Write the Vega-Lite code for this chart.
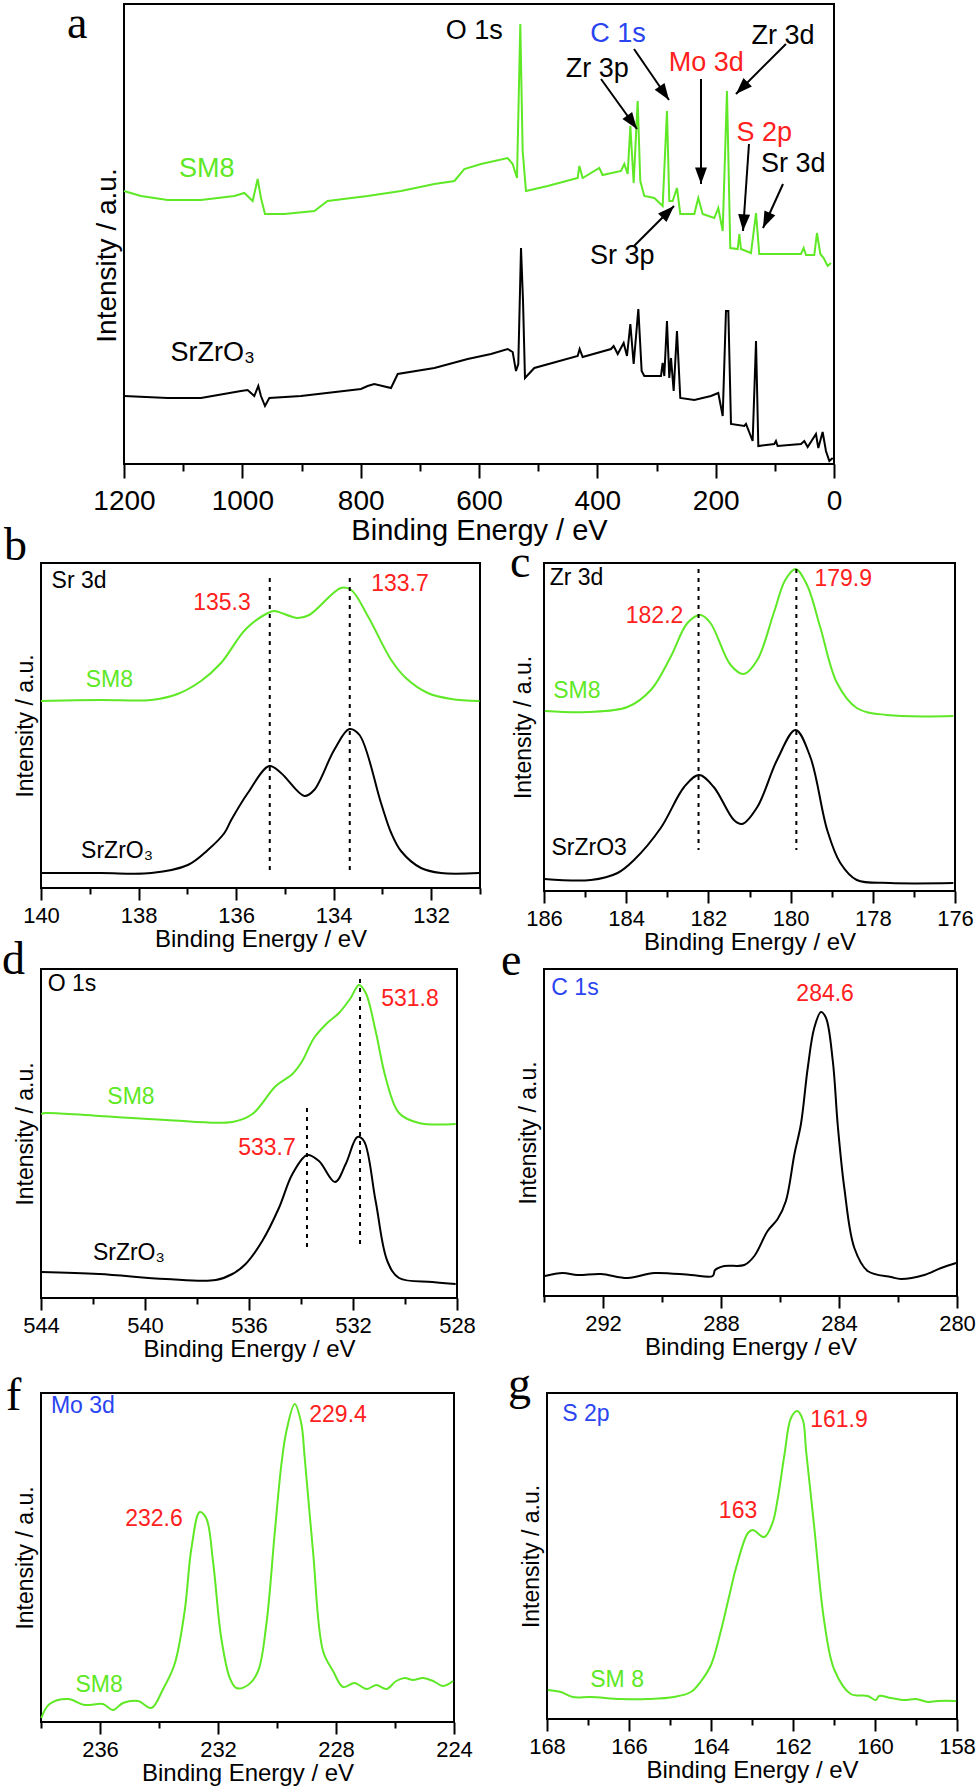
{
  "$schema": "https://vega.github.io/schema/vega-lite/v6.json",
  "background": "white",
  "padding": {"left": 1, "top": 0, "right": 0, "bottom": 0},
  "datasets": {
    "curves": [
      {"p":"a","c":"SM8","e":1200,"i":273},{"p":"a","c":"SM8","e":1171.3,"i":268},{"p":"a","c":"SM8","e":1126.2,"i":264},{"p":"a","c":"SM8","e":1069.9,"i":264},{"p":"a","c":"SM8","e":1013.5,"i":268},{"p":"a","c":"SM8","e":996.6,"i":271},{"p":"a","c":"SM8","e":982.5,"i":263},{"p":"a","c":"SM8","e":974.1,"i":285},{"p":"a","c":"SM8","e":968.5,"i":266},{"p":"a","c":"SM8","e":961.7,"i":250},{"p":"a","c":"SM8","e":929.0,"i":250},{"p":"a","c":"SM8","e":878.3,"i":253},{"p":"a","c":"SM8","e":855.8,"i":263},{"p":"a","c":"SM8","e":788.3,"i":268},{"p":"a","c":"SM8","e":731.8,"i":273},{"p":"a","c":"SM8","e":675.4,"i":280},{"p":"a","c":"SM8","e":641.6,"i":283},{"p":"a","c":"SM8","e":624.9,"i":295},{"p":"a","c":"SM8","e":596.6,"i":300},{"p":"a","c":"SM8","e":551.6,"i":306},{"p":"a","c":"SM8","e":543.1,"i":300},{"p":"a","c":"SM8","e":535.8,"i":286},{"p":"a","c":"SM8","e":530.2,"i":440},{"p":"a","c":"SM8","e":526.2,"i":313},{"p":"a","c":"SM8","e":520.6,"i":273},{"p":"a","c":"SM8","e":483.9,"i":278},{"p":"a","c":"SM8","e":433.2,"i":286},{"p":"a","c":"SM8","e":430.4,"i":298},{"p":"a","c":"SM8","e":424.8,"i":286},{"p":"a","c":"SM8","e":396.7,"i":296},{"p":"a","c":"SM8","e":391.1,"i":289},{"p":"a","c":"SM8","e":360.0,"i":293},{"p":"a","c":"SM8","e":354.4,"i":300},{"p":"a","c":"SM8","e":348.7,"i":290},{"p":"a","c":"SM8","e":344.2,"i":338},{"p":"a","c":"SM8","e":338.6,"i":281},{"p":"a","c":"SM8","e":331.8,"i":363},{"p":"a","c":"SM8","e":327.4,"i":283},{"p":"a","c":"SM8","e":320.6,"i":268},{"p":"a","c":"SM8","e":303.7,"i":266},{"p":"a","c":"SM8","e":289.6,"i":258},{"p":"a","c":"SM8","e":282.3,"i":353},{"p":"a","c":"SM8","e":278.4,"i":263},{"p":"a","c":"SM8","e":272.7,"i":263},{"p":"a","c":"SM8","e":265.4,"i":276},{"p":"a","c":"SM8","e":259.8,"i":250},{"p":"a","c":"SM8","e":236.1,"i":250},{"p":"a","c":"SM8","e":229.4,"i":266},{"p":"a","c":"SM8","e":222.0,"i":250},{"p":"a","c":"SM8","e":202.3,"i":246},{"p":"a","c":"SM8","e":195.6,"i":256},{"p":"a","c":"SM8","e":188.1,"i":233},{"p":"a","c":"SM8","e":180.9,"i":373},{"p":"a","c":"SM8","e":175.3,"i":216},{"p":"a","c":"SM8","e":162.8,"i":215},{"p":"a","c":"SM8","e":160.0,"i":230},{"p":"a","c":"SM8","e":157.2,"i":215},{"p":"a","c":"SM8","e":140.3,"i":211},{"p":"a","c":"SM8","e":131.8,"i":251},{"p":"a","c":"SM8","e":126.3,"i":210},{"p":"a","c":"SM8","e":55.8,"i":210},{"p":"a","c":"SM8","e":51.3,"i":216},{"p":"a","c":"SM8","e":47.3,"i":209},{"p":"a","c":"SM8","e":33.3,"i":209},{"p":"a","c":"SM8","e":28.8,"i":231},{"p":"a","c":"SM8","e":23.1,"i":210},{"p":"a","c":"SM8","e":17.5,"i":206},{"p":"a","c":"SM8","e":10.7,"i":198},{"p":"a","c":"SM8","e":5.1,"i":201},
      {"p":"a","c":"SrZrO3","e":1200,"i":68},{"p":"a","c":"SrZrO3","e":1126.2,"i":66},{"p":"a","c":"SrZrO3","e":1069.9,"i":66},{"p":"a","c":"SrZrO3","e":1002.3,"i":73},{"p":"a","c":"SrZrO3","e":991.0,"i":74},{"p":"a","c":"SrZrO3","e":979.8,"i":68},{"p":"a","c":"SrZrO3","e":973.0,"i":78},{"p":"a","c":"SrZrO3","e":968.5,"i":68},{"p":"a","c":"SrZrO3","e":961.7,"i":58},{"p":"a","c":"SrZrO3","e":954.4,"i":66},{"p":"a","c":"SrZrO3","e":900.9,"i":68},{"p":"a","c":"SrZrO3","e":799.5,"i":75},{"p":"a","c":"SrZrO3","e":788.3,"i":78},{"p":"a","c":"SrZrO3","e":777.0,"i":80},{"p":"a","c":"SrZrO3","e":748.7,"i":76},{"p":"a","c":"SrZrO3","e":737.4,"i":90},{"p":"a","c":"SrZrO3","e":675.4,"i":96},{"p":"a","c":"SrZrO3","e":619.1,"i":105},{"p":"a","c":"SrZrO3","e":579.7,"i":110},{"p":"a","c":"SrZrO3","e":551.6,"i":115},{"p":"a","c":"SrZrO3","e":543.1,"i":112},{"p":"a","c":"SrZrO3","e":537.5,"i":93},{"p":"a","c":"SrZrO3","e":533.6,"i":100},{"p":"a","c":"SrZrO3","e":529.0,"i":216},{"p":"a","c":"SrZrO3","e":525.6,"i":163},{"p":"a","c":"SrZrO3","e":522.3,"i":86},{"p":"a","c":"SrZrO3","e":506.5,"i":96},{"p":"a","c":"SrZrO3","e":433.2,"i":108},{"p":"a","c":"SrZrO3","e":429.9,"i":115},{"p":"a","c":"SrZrO3","e":424.8,"i":107},{"p":"a","c":"SrZrO3","e":376.9,"i":115},{"p":"a","c":"SrZrO3","e":372.4,"i":118},{"p":"a","c":"SrZrO3","e":365.6,"i":110},{"p":"a","c":"SrZrO3","e":355.5,"i":121},{"p":"a","c":"SrZrO3","e":349.9,"i":108},{"p":"a","c":"SrZrO3","e":344.2,"i":140},{"p":"a","c":"SrZrO3","e":338.6,"i":100},{"p":"a","c":"SrZrO3","e":330.7,"i":155},{"p":"a","c":"SrZrO3","e":325.1,"i":93},{"p":"a","c":"SrZrO3","e":320.6,"i":88},{"p":"a","c":"SrZrO3","e":292.4,"i":88},{"p":"a","c":"SrZrO3","e":289.6,"i":101},{"p":"a","c":"SrZrO3","e":286.8,"i":88},{"p":"a","c":"SrZrO3","e":282.3,"i":143},{"p":"a","c":"SrZrO3","e":278.4,"i":86},{"p":"a","c":"SrZrO3","e":275.5,"i":106},{"p":"a","c":"SrZrO3","e":271.0,"i":73},{"p":"a","c":"SrZrO3","e":265.4,"i":133},{"p":"a","c":"SrZrO3","e":259.8,"i":66},{"p":"a","c":"SrZrO3","e":236.1,"i":64},{"p":"a","c":"SrZrO3","e":208.0,"i":68},{"p":"a","c":"SrZrO3","e":195.6,"i":71},{"p":"a","c":"SrZrO3","e":188.1,"i":48},{"p":"a","c":"SrZrO3","e":182.6,"i":153},{"p":"a","c":"SrZrO3","e":178.6,"i":153},{"p":"a","c":"SrZrO3","e":174.1,"i":40},{"p":"a","c":"SrZrO3","e":151.6,"i":38},{"p":"a","c":"SrZrO3","e":148.7,"i":40},{"p":"a","c":"SrZrO3","e":137.5,"i":23},{"p":"a","c":"SrZrO3","e":131.8,"i":123},{"p":"a","c":"SrZrO3","e":127.9,"i":18},{"p":"a","c":"SrZrO3","e":100.9,"i":20},{"p":"a","c":"SrZrO3","e":98.1,"i":23},{"p":"a","c":"SrZrO3","e":95.3,"i":18},{"p":"a","c":"SrZrO3","e":55.8,"i":20},{"p":"a","c":"SrZrO3","e":50.2,"i":23},{"p":"a","c":"SrZrO3","e":44.5,"i":17},{"p":"a","c":"SrZrO3","e":30.5,"i":30},{"p":"a","c":"SrZrO3","e":26.5,"i":16},{"p":"a","c":"SrZrO3","e":19.2,"i":32},{"p":"a","c":"SrZrO3","e":13.6,"i":13},{"p":"a","c":"SrZrO3","e":7.9,"i":3},{"p":"a","c":"SrZrO3","e":2.2,"i":6},
      {"p":"b","c":"SM8","e":140,"i":187},{"p":"b","c":"SM8","e":138.77,"i":188},{"p":"b","c":"SM8","e":137.74,"i":188},{"p":"b","c":"SM8","e":137.2,"i":194},{"p":"b","c":"SM8","e":136.72,"i":207},{"p":"b","c":"SM8","e":136.31,"i":225},{"p":"b","c":"SM8","e":135.8,"i":259},{"p":"b","c":"SM8","e":135.35,"i":275},{"p":"b","c":"SM8","e":135.22,"i":277},{"p":"b","c":"SM8","e":134.74,"i":270},{"p":"b","c":"SM8","e":134.5,"i":273},{"p":"b","c":"SM8","e":133.85,"i":300},{"p":"b","c":"SM8","e":133.64,"i":298},{"p":"b","c":"SM8","e":133.3,"i":272},{"p":"b","c":"SM8","e":132.82,"i":228},{"p":"b","c":"SM8","e":132.52,"i":210},{"p":"b","c":"SM8","e":132.07,"i":195},{"p":"b","c":"SM8","e":131.59,"i":189},{"p":"b","c":"SM8","e":131.01,"i":187},
      {"p":"b","c":"SrZrO3","e":140,"i":15},{"p":"b","c":"SrZrO3","e":138.77,"i":15},{"p":"b","c":"SrZrO3","e":137.74,"i":15},{"p":"b","c":"SrZrO3","e":136.99,"i":23},{"p":"b","c":"SrZrO3","e":136.58,"i":38},{"p":"b","c":"SrZrO3","e":136.24,"i":55},{"p":"b","c":"SrZrO3","e":136.1,"i":68},{"p":"b","c":"SrZrO3","e":135.76,"i":95},{"p":"b","c":"SrZrO3","e":135.32,"i":122},{"p":"b","c":"SrZrO3","e":135.08,"i":115},{"p":"b","c":"SrZrO3","e":134.6,"i":92},{"p":"b","c":"SrZrO3","e":134.4,"i":98},{"p":"b","c":"SrZrO3","e":133.99,"i":138},{"p":"b","c":"SrZrO3","e":133.68,"i":159},{"p":"b","c":"SrZrO3","e":133.47,"i":153},{"p":"b","c":"SrZrO3","e":133.03,"i":85},{"p":"b","c":"SrZrO3","e":132.82,"i":55},{"p":"b","c":"SrZrO3","e":132.62,"i":37},{"p":"b","c":"SrZrO3","e":132.21,"i":20},{"p":"b","c":"SrZrO3","e":131.8,"i":15},{"p":"b","c":"SrZrO3","e":131.02,"i":15},
      {"p":"c","c":"SM8","e":185.98,"i":180},{"p":"c","c":"SM8","e":184.94,"i":179},{"p":"c","c":"SM8","e":183.97,"i":184},{"p":"c","c":"SM8","e":183.4,"i":201},{"p":"c","c":"SM8","e":182.92,"i":234},{"p":"c","c":"SM8","e":182.51,"i":268},{"p":"c","c":"SM8","e":182.19,"i":276},{"p":"c","c":"SM8","e":181.95,"i":268},{"p":"c","c":"SM8","e":181.46,"i":226},{"p":"c","c":"SM8","e":181.14,"i":217},{"p":"c","c":"SM8","e":180.81,"i":231},{"p":"c","c":"SM8","e":180.41,"i":278},{"p":"c","c":"SM8","e":180.13,"i":311},{"p":"c","c":"SM8","e":179.88,"i":322},{"p":"c","c":"SM8","e":179.6,"i":306},{"p":"c","c":"SM8","e":179.28,"i":264},{"p":"c","c":"SM8","e":178.87,"i":208},{"p":"c","c":"SM8","e":178.39,"i":183},{"p":"c","c":"SM8","e":177.66,"i":176},{"p":"c","c":"SM8","e":176.04,"i":175},
      {"p":"c","c":"SrZrO3","e":185.99,"i":12},{"p":"c","c":"SrZrO3","e":184.86,"i":11},{"p":"c","c":"SrZrO3","e":184.21,"i":18},{"p":"c","c":"SrZrO3","e":183.81,"i":31},{"p":"c","c":"SrZrO3","e":183.16,"i":63},{"p":"c","c":"SrZrO3","e":182.59,"i":104},{"p":"c","c":"SrZrO3","e":182.23,"i":116},{"p":"c","c":"SrZrO3","e":181.87,"i":104},{"p":"c","c":"SrZrO3","e":181.38,"i":71},{"p":"c","c":"SrZrO3","e":181.18,"i":67},{"p":"c","c":"SrZrO3","e":180.81,"i":84},{"p":"c","c":"SrZrO3","e":180.33,"i":131},{"p":"c","c":"SrZrO3","e":179.88,"i":161},{"p":"c","c":"SrZrO3","e":179.52,"i":134},{"p":"c","c":"SrZrO3","e":179.11,"i":61},{"p":"c","c":"SrZrO3","e":178.79,"i":28},{"p":"c","c":"SrZrO3","e":178.39,"i":11},{"p":"c","c":"SrZrO3","e":177.58,"i":8},{"p":"c","c":"SrZrO3","e":176.04,"i":8},
      {"p":"d","c":"SM8","e":543.99,"i":184},{"p":"d","c":"SM8","e":543.82,"i":185},{"p":"d","c":"SM8","e":541.77,"i":182},{"p":"d","c":"SM8","e":539.2,"i":178},{"p":"d","c":"SM8","e":536.64,"i":176},{"p":"d","c":"SM8","e":535.87,"i":184},{"p":"d","c":"SM8","e":534.97,"i":212},{"p":"d","c":"SM8","e":534.33,"i":224},{"p":"d","c":"SM8","e":533.95,"i":237},{"p":"d","c":"SM8","e":533.5,"i":260},{"p":"d","c":"SM8","e":532.99,"i":275},{"p":"d","c":"SM8","e":532.54,"i":285},{"p":"d","c":"SM8","e":532.09,"i":300},{"p":"d","c":"SM8","e":531.77,"i":313},{"p":"d","c":"SM8","e":531.51,"i":305},{"p":"d","c":"SM8","e":531.13,"i":267},{"p":"d","c":"SM8","e":530.74,"i":220},{"p":"d","c":"SM8","e":530.23,"i":185},{"p":"d","c":"SM8","e":529.46,"i":175},{"p":"d","c":"SM8","e":528.05,"i":174},
      {"p":"d","c":"SrZrO3","e":543.99,"i":26},{"p":"d","c":"SrZrO3","e":541.77,"i":24},{"p":"d","c":"SrZrO3","e":539.2,"i":19},{"p":"d","c":"SrZrO3","e":537.28,"i":18},{"p":"d","c":"SrZrO3","e":536.64,"i":24},{"p":"d","c":"SrZrO3","e":536.13,"i":34},{"p":"d","c":"SrZrO3","e":535.49,"i":57},{"p":"d","c":"SrZrO3","e":534.85,"i":90},{"p":"d","c":"SrZrO3","e":534.33,"i":124},{"p":"d","c":"SrZrO3","e":533.76,"i":143},{"p":"d","c":"SrZrO3","e":533.31,"i":137},{"p":"d","c":"SrZrO3","e":532.69,"i":116},{"p":"d","c":"SrZrO3","e":532.28,"i":134},{"p":"d","c":"SrZrO3","e":531.83,"i":161},{"p":"d","c":"SrZrO3","e":531.58,"i":157},{"p":"d","c":"SrZrO3","e":531.13,"i":97},{"p":"d","c":"SrZrO3","e":530.68,"i":37},{"p":"d","c":"SrZrO3","e":530.23,"i":20},{"p":"d","c":"SrZrO3","e":528.95,"i":16},{"p":"d","c":"SrZrO3","e":528.05,"i":14},
      {"p":"e","c":"SrZrO3","e":293.97,"i":20},{"p":"e","c":"SrZrO3","e":293.37,"i":23},{"p":"e","c":"SrZrO3","e":292.86,"i":21},{"p":"e","c":"SrZrO3","e":292.07,"i":22},{"p":"e","c":"SrZrO3","e":291.16,"i":18},{"p":"e","c":"SrZrO3","e":290.26,"i":23},{"p":"e","c":"SrZrO3","e":289.02,"i":21},{"p":"e","c":"SrZrO3","e":288.28,"i":20},{"p":"e","c":"SrZrO3","e":288.2,"i":26},{"p":"e","c":"SrZrO3","e":287.89,"i":30},{"p":"e","c":"SrZrO3","e":287.21,"i":31},{"p":"e","c":"SrZrO3","e":286.87,"i":40},{"p":"e","c":"SrZrO3","e":286.42,"i":65},{"p":"e","c":"SrZrO3","e":286.08,"i":77},{"p":"e","c":"SrZrO3","e":285.8,"i":95},{"p":"e","c":"SrZrO3","e":285.51,"i":142},{"p":"e","c":"SrZrO3","e":285.29,"i":172},{"p":"e","c":"SrZrO3","e":285.06,"i":228},{"p":"e","c":"SrZrO3","e":284.84,"i":268},{"p":"e","c":"SrZrO3","e":284.61,"i":284},{"p":"e","c":"SrZrO3","e":284.44,"i":278},{"p":"e","c":"SrZrO3","e":284.21,"i":235},{"p":"e","c":"SrZrO3","e":284.04,"i":170},{"p":"e","c":"SrZrO3","e":283.82,"i":108},{"p":"e","c":"SrZrO3","e":283.48,"i":48},{"p":"e","c":"SrZrO3","e":283.03,"i":25},{"p":"e","c":"SrZrO3","e":282.24,"i":19},{"p":"e","c":"SrZrO3","e":281.9,"i":17},{"p":"e","c":"SrZrO3","e":281.11,"i":21},{"p":"e","c":"SrZrO3","e":280.54,"i":28},{"p":"e","c":"SrZrO3","e":280.03,"i":33},
      {"p":"f","c":"SM8","e":237.99,"i":4},{"p":"f","c":"SM8","e":237.71,"i":18},{"p":"f","c":"SM8","e":237.08,"i":23},{"p":"f","c":"SM8","e":236.52,"i":17},{"p":"f","c":"SM8","e":235.9,"i":18},{"p":"f","c":"SM8","e":235.56,"i":12},{"p":"f","c":"SM8","e":235.22,"i":19},{"p":"f","c":"SM8","e":234.71,"i":21},{"p":"f","c":"SM8","e":234.26,"i":14},{"p":"f","c":"SM8","e":233.86,"i":33},{"p":"f","c":"SM8","e":233.47,"i":58},{"p":"f","c":"SM8","e":233.13,"i":111},{"p":"f","c":"SM8","e":232.9,"i":174},{"p":"f","c":"SM8","e":232.62,"i":210},{"p":"f","c":"SM8","e":232.4,"i":204},{"p":"f","c":"SM8","e":232.17,"i":161},{"p":"f","c":"SM8","e":231.89,"i":84},{"p":"f","c":"SM8","e":231.6,"i":44},{"p":"f","c":"SM8","e":231.38,"i":34},{"p":"f","c":"SM8","e":230.98,"i":37},{"p":"f","c":"SM8","e":230.64,"i":51},{"p":"f","c":"SM8","e":230.36,"i":98},{"p":"f","c":"SM8","e":230.08,"i":188},{"p":"f","c":"SM8","e":229.85,"i":258},{"p":"f","c":"SM8","e":229.68,"i":291},{"p":"f","c":"SM8","e":229.4,"i":318},{"p":"f","c":"SM8","e":229.18,"i":299},{"p":"f","c":"SM8","e":229.06,"i":264},{"p":"f","c":"SM8","e":228.78,"i":171},{"p":"f","c":"SM8","e":228.44,"i":71},{"p":"f","c":"SM8","e":228.1,"i":51},{"p":"f","c":"SM8","e":227.76,"i":35},{"p":"f","c":"SM8","e":227.37,"i":39},{"p":"f","c":"SM8","e":226.97,"i":33},{"p":"f","c":"SM8","e":226.63,"i":37},{"p":"f","c":"SM8","e":226.29,"i":33},{"p":"f","c":"SM8","e":225.96,"i":41},{"p":"f","c":"SM8","e":225.67,"i":44},{"p":"f","c":"SM8","e":225.39,"i":42},{"p":"f","c":"SM8","e":225.05,"i":44},{"p":"f","c":"SM8","e":224.71,"i":41},{"p":"f","c":"SM8","e":224.37,"i":36},{"p":"f","c":"SM8","e":224.03,"i":41},
      {"p":"g","c":"SM8","e":167.98,"i":29},{"p":"g","c":"SM8","e":167.66,"i":27},{"p":"g","c":"SM8","e":167.37,"i":22},{"p":"g","c":"SM8","e":166.93,"i":22},{"p":"g","c":"SM8","e":166.2,"i":20},{"p":"g","c":"SM8","e":165.54,"i":20},{"p":"g","c":"SM8","e":164.9,"i":22},{"p":"g","c":"SM8","e":164.49,"i":27},{"p":"g","c":"SM8","e":164.24,"i":38},{"p":"g","c":"SM8","e":164.0,"i":54},{"p":"g","c":"SM8","e":163.76,"i":88},{"p":"g","c":"SM8","e":163.55,"i":124},{"p":"g","c":"SM8","e":163.39,"i":151},{"p":"g","c":"SM8","e":163.1,"i":186},{"p":"g","c":"SM8","e":162.98,"i":189},{"p":"g","c":"SM8","e":162.7,"i":182},{"p":"g","c":"SM8","e":162.5,"i":196},{"p":"g","c":"SM8","e":162.37,"i":221},{"p":"g","c":"SM8","e":162.21,"i":264},{"p":"g","c":"SM8","e":162.05,"i":301},{"p":"g","c":"SM8","e":161.9,"i":308},{"p":"g","c":"SM8","e":161.76,"i":299},{"p":"g","c":"SM8","e":161.68,"i":268},{"p":"g","c":"SM8","e":161.48,"i":191},{"p":"g","c":"SM8","e":161.24,"i":98},{"p":"g","c":"SM8","e":160.99,"i":49},{"p":"g","c":"SM8","e":160.59,"i":25},{"p":"g","c":"SM8","e":160.18,"i":23},{"p":"g","c":"SM8","e":159.98,"i":19},{"p":"g","c":"SM8","e":159.9,"i":23},{"p":"g","c":"SM8","e":159.61,"i":21},{"p":"g","c":"SM8","e":159.28,"i":19},{"p":"g","c":"SM8","e":159.0,"i":20},{"p":"g","c":"SM8","e":158.71,"i":17},{"p":"g","c":"SM8","e":158.47,"i":18},{"p":"g","c":"SM8","e":158.02,"i":18}
    ],
    "labels": [
      {"p":"a","c":"label","e":608,"i":433,"t":"O 1s"},
      {"p":"a","c":"label-blue","e":365,"i":430,"t":"C 1s"},
      {"p":"a","c":"label","e":400,"i":395,"t":"Zr 3p"},
      {"p":"a","c":"label-red","e":216,"i":401,"t":"Mo 3d"},
      {"p":"a","c":"label","e":86,"i":428,"t":"Zr 3d"},
      {"p":"a","c":"label-red","e":118,"i":331,"t":"S 2p"},
      {"p":"a","c":"label","e":69,"i":300,"t":"Sr 3d"},
      {"p":"a","c":"label","e":358,"i":208,"t":"Sr 3p"},
      {"p":"a","c":"SM8","e":1060,"i":295,"t":"SM8"},
      {"p":"a","c":"SrZrO3","e":1050,"i":111,"t":"SrZrO₃"},
      {"p":"b","c":"label","e":139.22,"i":307,"t":"Sr 3d"},
      {"p":"b","c":"peak","e":136.29,"i":285,"t":"135.3"},
      {"p":"b","c":"peak","e":132.64,"i":304,"t":"133.7"},
      {"p":"b","c":"SM8","e":138.6,"i":208,"t":"SM8"},
      {"p":"b","c":"SrZrO3","e":138.44,"i":37,"t":"SrZrO₃"},
      {"p":"c","c":"label","e":185.21,"i":313,"t":"Zr 3d"},
      {"p":"c","c":"peak","e":183.31,"i":275,"t":"182.2"},
      {"p":"c","c":"peak","e":178.72,"i":312,"t":"179.9"},
      {"p":"c","c":"SM8","e":185.2,"i":200,"t":"SM8"},
      {"p":"c","c":"SrZrO3","e":184.9,"i":43,"t":"SrZrO3"},
      {"p":"d","c":"label","e":542.81,"i":314,"t":"O 1s"},
      {"p":"d","c":"peak","e":529.81,"i":299,"t":"531.8"},
      {"p":"d","c":"SM8","e":540.54,"i":201,"t":"SM8"},
      {"p":"d","c":"peak","e":535.31,"i":150,"t":"533.7"},
      {"p":"d","c":"SrZrO3","e":540.62,"i":45,"t":"SrZrO₃"},
      {"p":"e","c":"label-blue","e":292.95,"i":308,"t":"C 1s"},
      {"p":"e","c":"peak","e":284.47,"i":302,"t":"284.6"},
      {"p":"f","c":"label-blue","e":236.58,"i":316,"t":"Mo 3d"},
      {"p":"f","c":"peak","e":227.93,"i":307,"t":"229.4"},
      {"p":"f","c":"peak","e":234.17,"i":203,"t":"232.6"},
      {"p":"f","c":"SM8","e":236.03,"i":37,"t":"SM8"},
      {"p":"g","c":"label-blue","e":167.05,"i":305,"t":"S 2p"},
      {"p":"g","c":"peak","e":160.88,"i":299,"t":"161.9"},
      {"p":"g","c":"peak","e":163.34,"i":208,"t":"163"},
      {"p":"g","c":"SM8","e":166.29,"i":39,"t":"SM 8"}
    ],
    "guides": [
      {"p":"b","e":135.31,"i1":310,"i2":18},
      {"p":"b","e":133.67,"i1":310,"i2":18},
      {"p":"c","e":182.24,"i1":322,"i2":41},
      {"p":"c","e":179.86,"i1":322,"i2":41},
      {"p":"d","e":531.73,"i1":319,"i2":50},
      {"p":"d","e":533.77,"i1":190,"i2":49}
    ],
    "arrows": [
      {"e1":393.8,"i1":385,"e2":333.0,"i2":335},
      {"e1":338.0,"i1":415,"e2":278.9,"i2":364},
      {"e1":224.8,"i1":385,"e2":224.8,"i2":280},
      {"e1":81.2,"i1":420,"e2":165.7,"i2":370},
      {"e1":143.7,"i1":320,"e2":153.8,"i2":233},
      {"e1":86.2,"i1":280,"e2":120.0,"i2":236},
      {"e1":338.0,"i1":218,"e2":270.4,"i2":258}
    ]
  },
  "spacing": -24,
  "vconcat": [
    {
      "bounds": "flush",
      "spacing": 20,
      "hconcat": [
        {
          "width": 63,
          "height": 1,
          "view": {"stroke": null},
          "data": {"values": []},
          "mark": "point"
        },
        {
          "width": 710,
          "height": 460,
          "title": {"text": "a", "dx": -57, "dy": 48},
          "layer": [
            {
              "data": {"name": "curves"},
              "transform": [{"filter": "datum.p == 'a'"}],
              "mark": {"type": "line", "strokeWidth": 2},
              "encoding": {
                "x": {"field": "e", "type": "quantitative", "scale": {"domain": [0, 1200], "reverse": true, "nice": false, "zero": false},
                  "axis": {"title": "Binding Energy / eV", "values": [0,100,200,300,400,500,600,700,800,900,1000,1100,1200], "format": "d",
                    "labelExpr": "datum.value % 200 == 0 ? datum.label : ''",
                    "tickSize": {"condition": {"test": "datum.value % 200 == 0", "value": 14}, "value": 7},
                    "labelFontSize": 28, "titleFontSize": 29, "labelPadding": 9, "titlePadding": 1}},
                "y": {"field": "i", "type": "quantitative", "scale": {"domain": [0, 460], "nice": false, "zero": false},
                  "axis": {"title": "Intensity / a.u.", "titleFontSize": 28, "titlePadding": 3, "titleY": 251}},
                "color": {"field": "c", "type": "nominal", "legend": null,
                  "scale": {"domain": ["SM8","SrZrO3","peak","label","label-blue","label-red"], "range": ["#5ee825","#000000","#ff2020","#000000","#2a44f0","#ff2020"]}}
              }
            },
            {
              "data": {"name": "arrows"},
              "mark": {"type": "rule", "color": "black", "strokeWidth": 2},
              "encoding": {
                "x": {"field": "e1", "type": "quantitative"},
                "x2": {"field": "e2"},
                "y": {"field": "i1", "type": "quantitative"},
                "y2": {"field": "i2"}
              }
            },
            {
              "data": {"name": "arrows"},
              "transform": [{"calculate": "atan2((datum.e1 - datum.e2) * 710 / 1200, datum.i2 - datum.i1) * 180 / PI", "as": "ang"}],
              "mark": {"type": "point", "shape": "M0,0L-0.36,1L0.36,1Z", "size": 1100, "filled": true, "color": "black", "opacity": 1},
              "encoding": {
                "x": {"field": "e2", "type": "quantitative"},
                "y": {"field": "i2", "type": "quantitative"},
                "angle": {"field": "ang", "type": "quantitative", "scale": null}
              }
            },
            {
              "data": {"name": "labels"},
              "transform": [{"filter": "datum.p == 'a'"}],
              "mark": {"type": "text", "fontSize": 27},
              "encoding": {
                "x": {"field": "e", "type": "quantitative"},
                "y": {"field": "i", "type": "quantitative"},
                "text": {"field": "t"},
                "color": {"field": "c", "type": "nominal", "legend": null,
                  "scale": {"domain": ["SM8","SrZrO3","peak","label","label-blue","label-red"], "range": ["#5ee825","#000000","#ff2020","#000000","#2a44f0","#ff2020"]}}
              }
            }
          ]
        }
      ]
    },
    {
      "spacing": -19,
      "vconcat": [
        {
          "bounds": "flush",
          "spacing": 64,
          "hconcat": [
            {
              "width": 439, "height": 325,
              "title": {"text": "b", "dx": -37, "dy": 11},
              "layer": [
                {
                  "data": {"name": "curves"},
                  "transform": [{"filter": "datum.p == 'b'"}],
                  "mark": {"type": "line", "strokeWidth": 2, "interpolate": "catmull-rom"},
                  "encoding": {
                    "x": {"field": "e", "type": "quantitative", "scale": {"domain": [131, 140], "reverse": true, "nice": false, "zero": false},
                      "axis": {"title": "Binding Energy / eV", "values": [131,132,133,134,135,136,137,138,139,140], "format": "d",
                        "labelExpr": "datum.value % 2 == 0 ? datum.label : ''",
                        "tickSize": {"condition": {"test": "datum.value % 2 == 0", "value": 12}, "value": 6},
                        "labelFontSize": 22, "titleFontSize": 24, "labelPadding": 5, "titlePadding": 1}},
                    "y": {"field": "i", "type": "quantitative", "scale": {"domain": [0, 325], "nice": false, "zero": false},
                      "axis": {"title": "Intensity / a.u.", "titleFontSize": 23, "titlePadding": 4}},
                    "color": {"field": "c", "type": "nominal", "legend": null,
                      "scale": {"domain": ["SM8","SrZrO3","peak","label","label-blue","label-red"], "range": ["#5ee825","#000000","#ff2020","#000000","#2a44f0","#ff2020"]}}
                  }
                },
                {
                  "data": {"name": "guides"},
                  "transform": [{"filter": "datum.p == 'b'"}],
                  "mark": {"type": "rule", "color": "black", "strokeWidth": 2, "strokeDash": [4, 5]},
                  "encoding": {
                    "x": {"field": "e", "type": "quantitative"},
                    "y": {"field": "i1", "type": "quantitative"},
                    "y2": {"field": "i2"}
                  }
                },
                {
                  "data": {"name": "labels"},
                  "transform": [{"filter": "datum.p == 'b'"}],
                  "mark": {"type": "text", "fontSize": 23},
                  "encoding": {
                    "x": {"field": "e", "type": "quantitative"},
                    "y": {"field": "i", "type": "quantitative"},
                    "text": {"field": "t"},
                    "color": {"field": "c", "type": "nominal", "legend": null,
                      "scale": {"domain": ["SM8","SrZrO3","peak","label","label-blue","label-red"], "range": ["#5ee825","#000000","#ff2020","#000000","#2a44f0","#ff2020"]}}
                  }
                }
              ]
            },
            {
              "width": 411, "height": 328,
              "title": {"text": "c", "dx": -34, "dy": 28},
              "layer": [
                {
                  "data": {"name": "curves"},
                  "transform": [{"filter": "datum.p == 'c'"}],
                  "mark": {"type": "line", "strokeWidth": 2, "interpolate": "catmull-rom"},
                  "encoding": {
                    "x": {"field": "e", "type": "quantitative", "scale": {"domain": [176, 186], "reverse": true, "nice": false, "zero": false},
                      "axis": {"title": "Binding Energy / eV", "values": [176,177,178,179,180,181,182,183,184,185,186], "format": "d",
                        "labelExpr": "datum.value % 2 == 0 ? datum.label : ''",
                        "tickSize": {"condition": {"test": "datum.value % 2 == 0", "value": 12}, "value": 6},
                        "labelFontSize": 22, "titleFontSize": 24, "labelPadding": 5, "titlePadding": 1}},
                    "y": {"field": "i", "type": "quantitative", "scale": {"domain": [0, 328], "nice": false, "zero": false},
                      "axis": {"title": "Intensity / a.u.", "titleFontSize": 23, "titlePadding": 9}},
                    "color": {"field": "c", "type": "nominal", "legend": null,
                      "scale": {"domain": ["SM8","SrZrO3","peak","label","label-blue","label-red"], "range": ["#5ee825","#000000","#ff2020","#000000","#2a44f0","#ff2020"]}}
                  }
                },
                {
                  "data": {"name": "guides"},
                  "transform": [{"filter": "datum.p == 'c'"}],
                  "mark": {"type": "rule", "color": "black", "strokeWidth": 2, "strokeDash": [4, 5]},
                  "encoding": {
                    "x": {"field": "e", "type": "quantitative"},
                    "y": {"field": "i1", "type": "quantitative"},
                    "y2": {"field": "i2"}
                  }
                },
                {
                  "data": {"name": "labels"},
                  "transform": [{"filter": "datum.p == 'c'"}],
                  "mark": {"type": "text", "fontSize": 23},
                  "encoding": {
                    "x": {"field": "e", "type": "quantitative"},
                    "y": {"field": "i", "type": "quantitative"},
                    "text": {"field": "t"},
                    "color": {"field": "c", "type": "nominal", "legend": null,
                      "scale": {"domain": ["SM8","SrZrO3","peak","label","label-blue","label-red"], "range": ["#5ee825","#000000","#ff2020","#000000","#2a44f0","#ff2020"]}}
                  }
                }
              ]
            }
          ]
        },
        {
          "spacing": -1,
          "vconcat": [
            {
              "bounds": "flush",
              "spacing": 87,
              "hconcat": [
                {
                  "width": 416, "height": 329,
                  "title": {"text": "d", "dx": -39, "dy": 19},
                  "layer": [
                    {
                      "data": {"name": "curves"},
                      "transform": [{"filter": "datum.p == 'd'"}],
                      "mark": {"type": "line", "strokeWidth": 2, "interpolate": "catmull-rom"},
                      "encoding": {
                        "x": {"field": "e", "type": "quantitative", "scale": {"domain": [528, 544], "reverse": true, "nice": false, "zero": false},
                          "axis": {"title": "Binding Energy / eV", "values": [528,530,532,534,536,538,540,542,544], "format": "d",
                            "labelExpr": "datum.value % 4 == 0 ? datum.label : ''",
                            "tickSize": {"condition": {"test": "datum.value % 4 == 0", "value": 12}, "value": 6},
                            "labelFontSize": 22, "titleFontSize": 24, "labelPadding": 5, "titlePadding": 1}},
                        "y": {"field": "i", "type": "quantitative", "scale": {"domain": [0, 329], "nice": false, "zero": false},
                          "axis": {"title": "Intensity / a.u.", "titleFontSize": 23, "titlePadding": 4}},
                        "color": {"field": "c", "type": "nominal", "legend": null,
                          "scale": {"domain": ["SM8","SrZrO3","peak","label","label-blue","label-red"], "range": ["#5ee825","#000000","#ff2020","#000000","#2a44f0","#ff2020"]}}
                      }
                    },
                    {
                      "data": {"name": "guides"},
                      "transform": [{"filter": "datum.p == 'd'"}],
                      "mark": {"type": "rule", "color": "black", "strokeWidth": 2, "strokeDash": [4, 5]},
                      "encoding": {
                        "x": {"field": "e", "type": "quantitative"},
                        "y": {"field": "i1", "type": "quantitative"},
                        "y2": {"field": "i2"}
                      }
                    },
                    {
                      "data": {"name": "labels"},
                      "transform": [{"filter": "datum.p == 'd'"}],
                      "mark": {"type": "text", "fontSize": 23},
                      "encoding": {
                        "x": {"field": "e", "type": "quantitative"},
                        "y": {"field": "i", "type": "quantitative"},
                        "text": {"field": "t"},
                        "color": {"field": "c", "type": "nominal", "legend": null,
                          "scale": {"domain": ["SM8","SrZrO3","peak","label","label-blue","label-red"], "range": ["#5ee825","#000000","#ff2020","#000000","#2a44f0","#ff2020"]}}
                      }
                    }
                  ]
                },
                {
                  "width": 413, "height": 327,
                  "title": {"text": "e", "dx": -43, "dy": 20},
                  "layer": [
                    {
                      "data": {"name": "curves"},
                      "transform": [{"filter": "datum.p == 'e'"}],
                      "mark": {"type": "line", "strokeWidth": 2, "interpolate": "catmull-rom"},
                      "encoding": {
                        "x": {"field": "e", "type": "quantitative", "scale": {"domain": [280, 294], "reverse": true, "nice": false, "zero": false},
                          "axis": {"title": "Binding Energy / eV", "values": [280,282,284,286,288,290,292,294], "format": "d",
                            "labelExpr": "datum.value % 4 == 0 ? datum.label : ''",
                            "tickSize": {"condition": {"test": "datum.value % 4 == 0", "value": 12}, "value": 6},
                            "labelFontSize": 22, "titleFontSize": 24, "labelPadding": 5, "titlePadding": 1}},
                        "y": {"field": "i", "type": "quantitative", "scale": {"domain": [0, 327], "nice": false, "zero": false},
                          "axis": {"title": "Intensity / a.u.", "titleFontSize": 23, "titlePadding": 4}},
                        "color": {"field": "c", "type": "nominal", "legend": null,
                          "scale": {"domain": ["SM8","SrZrO3","peak","label","label-blue","label-red"], "range": ["#5ee825","#000000","#ff2020","#000000","#2a44f0","#ff2020"]}}
                      }
                    },
                    {
                      "data": {"name": "labels"},
                      "transform": [{"filter": "datum.p == 'e'"}],
                      "mark": {"type": "text", "fontSize": 23},
                      "encoding": {
                        "x": {"field": "e", "type": "quantitative"},
                        "y": {"field": "i", "type": "quantitative"},
                        "text": {"field": "t"},
                        "color": {"field": "c", "type": "nominal", "legend": null,
                          "scale": {"domain": ["SM8","SrZrO3","peak","label","label-blue","label-red"], "range": ["#5ee825","#000000","#ff2020","#000000","#2a44f0","#ff2020"]}}
                      }
                    }
                  ]
                }
              ]
            },
            {
              "bounds": "flush",
              "spacing": 93,
              "hconcat": [
                {
                  "width": 413, "height": 329,
                  "title": {"text": "f", "dx": -35, "dy": 31},
                  "layer": [
                    {
                      "data": {"name": "curves"},
                      "transform": [{"filter": "datum.p == 'f'"}],
                      "mark": {"type": "line", "strokeWidth": 2, "interpolate": "catmull-rom"},
                      "encoding": {
                        "x": {"field": "e", "type": "quantitative", "scale": {"domain": [224, 238], "reverse": true, "nice": false, "zero": false},
                          "axis": {"title": "Binding Energy / eV", "values": [224,226,228,230,232,234,236,238], "format": "d",
                            "labelExpr": "datum.value % 4 == 0 ? datum.label : ''",
                            "tickSize": {"condition": {"test": "datum.value % 4 == 0", "value": 12}, "value": 6},
                            "labelFontSize": 22, "titleFontSize": 24, "labelPadding": 5, "titlePadding": 1}},
                        "y": {"field": "i", "type": "quantitative", "scale": {"domain": [0, 329], "nice": false, "zero": false},
                          "axis": {"title": "Intensity / a.u.", "titleFontSize": 23, "titlePadding": 4}},
                        "color": {"field": "c", "type": "nominal", "legend": null,
                          "scale": {"domain": ["SM8","SrZrO3","peak","label","label-blue","label-red"], "range": ["#5ee825","#000000","#ff2020","#000000","#2a44f0","#ff2020"]}}
                      }
                    },
                    {
                      "data": {"name": "labels"},
                      "transform": [{"filter": "datum.p == 'f'"}],
                      "mark": {"type": "text", "fontSize": 23},
                      "encoding": {
                        "x": {"field": "e", "type": "quantitative"},
                        "y": {"field": "i", "type": "quantitative"},
                        "text": {"field": "t"},
                        "color": {"field": "c", "type": "nominal", "legend": null,
                          "scale": {"domain": ["SM8","SrZrO3","peak","label","label-blue","label-red"], "range": ["#5ee825","#000000","#ff2020","#000000","#2a44f0","#ff2020"]}}
                      }
                    }
                  ]
                },
                {
                  "width": 410, "height": 326,
                  "title": {"text": "g", "dx": -39, "dy": 20},
                  "layer": [
                    {
                      "data": {"name": "curves"},
                      "transform": [{"filter": "datum.p == 'g'"}],
                      "mark": {"type": "line", "strokeWidth": 2, "interpolate": "catmull-rom"},
                      "encoding": {
                        "x": {"field": "e", "type": "quantitative", "scale": {"domain": [158, 168], "reverse": true, "nice": false, "zero": false},
                          "axis": {"title": "Binding Energy / eV", "values": [158,159,160,161,162,163,164,165,166,167,168], "format": "d",
                            "labelExpr": "datum.value % 2 == 0 ? datum.label : ''",
                            "tickSize": {"condition": {"test": "datum.value % 2 == 0", "value": 12}, "value": 6},
                            "labelFontSize": 22, "titleFontSize": 24, "labelPadding": 5, "titlePadding": 1}},
                        "y": {"field": "i", "type": "quantitative", "scale": {"domain": [0, 326], "nice": false, "zero": false},
                          "axis": {"title": "Intensity / a.u.", "titleFontSize": 23, "titlePadding": 4}},
                        "color": {"field": "c", "type": "nominal", "legend": null,
                          "scale": {"domain": ["SM8","SrZrO3","peak","label","label-blue","label-red"], "range": ["#5ee825","#000000","#ff2020","#000000","#2a44f0","#ff2020"]}}
                      }
                    },
                    {
                      "data": {"name": "labels"},
                      "transform": [{"filter": "datum.p == 'g'"}],
                      "mark": {"type": "text", "fontSize": 23},
                      "encoding": {
                        "x": {"field": "e", "type": "quantitative"},
                        "y": {"field": "i", "type": "quantitative"},
                        "text": {"field": "t"},
                        "color": {"field": "c", "type": "nominal", "legend": null,
                          "scale": {"domain": ["SM8","SrZrO3","peak","label","label-blue","label-red"], "range": ["#5ee825","#000000","#ff2020","#000000","#2a44f0","#ff2020"]}}
                      }
                    }
                  ]
                }
              ]
            }
          ]
        }
      ]
    }
  ],
  "config": {
    "view": {"stroke": "black", "strokeWidth": 2},
    "font": "Liberation Sans",
    "axis": {"labelFont": "Liberation Sans", "titleFont": "Liberation Sans", "labelColor": "black", "titleColor": "black", "titleFontWeight": "normal", "grid": false, "tickColor": "black", "tickWidth": 2, "labelFlush": false, "labelOverlap": false, "domain": false},
    "axisY": {"ticks": false, "labels": false},
    "title": {"font": "Liberation Serif", "fontSize": 46, "fontWeight": "normal", "anchor": "start", "frame": "group", "offset": 0, "baseline": "alphabetic", "color": "black"},
    "text": {"font": "Liberation Sans", "align": "center", "baseline": "middle"}
  }
}
